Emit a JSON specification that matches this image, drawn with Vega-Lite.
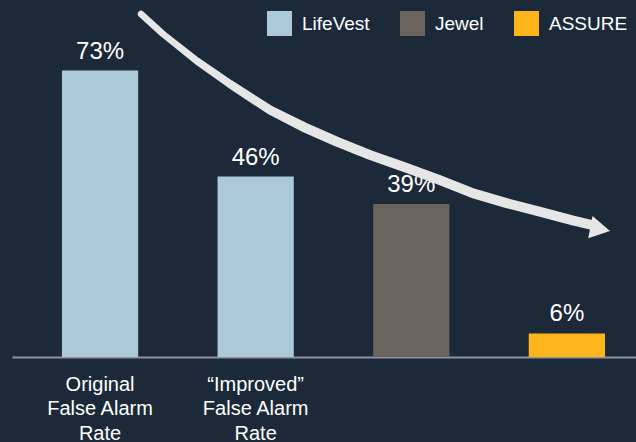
{
  "$schema": "https://vega.github.io/schema/vega-lite/v6.json",
  "width": 624,
  "height": 357,
  "autosize": {"type": "none"},
  "padding": {"left": 12, "top": 0, "right": 0, "bottom": 85},
  "background": "#1b2938",
  "config": {
    "view": {"stroke": null},
    "font": "Liberation Sans",
    "text": {"font": "Liberation Sans"}
  },
  "datasets": {
    "bars": [
      {"category": "Original|False Alarm|Rate", "device": "LifeVest", "rate": 0.73},
      {"category": "“Improved”|False Alarm|Rate", "device": "LifeVest", "rate": 0.46},
      {"category": "Jewel", "device": "Jewel", "rate": 0.39},
      {"category": "ASSURE", "device": "ASSURE", "rate": 0.06}
    ],
    "arrow": [
      {"ax": 1.2637, "ay": 0.8743},
      {"ax": 1.4051, "ay": 0.8233},
      {"ax": 1.6238, "ay": 0.7545},
      {"ax": 1.836, "ay": 0.6959},
      {"ax": 2.0932, "ay": 0.6296},
      {"ax": 2.3055, "ay": 0.587},
      {"ax": 2.5241, "ay": 0.5488},
      {"ax": 2.7363, "ay": 0.5149},
      {"ax": 2.9486, "ay": 0.4851},
      {"ax": 3.1672, "ay": 0.4537},
      {"ax": 3.3987, "ay": 0.4173},
      {"ax": 3.6174, "ay": 0.3918},
      {"ax": 3.8296, "ay": 0.3704},
      {"ax": 4.0418, "ay": 0.348},
      {"ax": 4.164, "ay": 0.3365}
    ],
    "head": [{"ax": 4.2167, "ay": 0.3263}]
  },
  "layer": [
    {
      "data": {"name": "bars"},
      "encoding": {
        "x": {
          "field": "category",
          "type": "nominal",
          "sort": null,
          "scale": {"paddingInner": 0.51, "paddingOuter": 0.26, "align": 0.617},
          "axis": {
            "title": null,
            "labelExpr": "indexof(datum.label,'|')>=0 ? split(datum.label,'|') : ''",
            "labelAngle": 0,
            "labelFontSize": 20,
            "labelFont": "Liberation Sans",
            "labelColor": "#ffffff",
            "labelPadding": 17,
            "labelLineHeight": 24.5,
            "labelBaseline": "top",
            "labelLimit": 0,
            "labelOverlap": false,
            "labelBound": false,
            "ticks": false,
            "grid": false,
            "domainColor": "#8e949b",
            "domainWidth": 2
          }
        },
        "y": {
          "field": "rate",
          "type": "quantitative",
          "scale": {"domain": [0, 0.91]},
          "axis": null
        }
      },
      "layer": [
        {
          "mark": {"type": "bar"},
          "encoding": {
            "color": {
              "field": "device",
              "type": "nominal",
              "scale": {
                "domain": ["LifeVest", "Jewel", "ASSURE"],
                "range": ["#abc9d8", "#6b635e", "#fdb51b"]
              },
              "legend": {
                "orient": "none",
                "legendX": 255,
                "legendY": 11,
                "direction": "horizontal",
                "title": null,
                "symbolType": "square",
                "symbolSize": 625,
                "symbolStrokeWidth": 0,
                "symbolOpacity": 1,
                "labelFontSize": 19,
                "labelFont": "Liberation Sans",
                "labelColor": "#ffffff",
                "labelOffset": 10,
                "columnPadding": 30,
                "labelLimit": 0
              }
            }
          }
        },
        {
          "mark": {
            "type": "text",
            "dy": -12,
            "baseline": "alphabetic",
            "fontSize": 24,
            "color": "#ffffff"
          },
          "encoding": {
            "text": {"field": "rate", "type": "quantitative", "format": ".0%"}
          }
        }
      ]
    },
    {
      "data": {"name": "arrow"},
      "mark": {"type": "trail", "color": "#e6e6e6"},
      "encoding": {
        "x": {
          "field": "ax",
          "type": "quantitative",
          "scale": {"domain": [0.434, 4.447], "nice": false, "zero": false},
          "axis": null
        },
        "y": {
          "field": "ay",
          "type": "quantitative",
          "scale": {"domain": [0, 0.91]},
          "axis": null
        },
        "size": {
          "field": "ax",
          "type": "quantitative",
          "scale": {"domain": [1.4, 2.3], "range": [6.5, 9.8], "clamp": true, "zero": false, "nice": false},
          "legend": null
        }
      }
    },
    {
      "data": {"name": "head"},
      "mark": {
        "type": "point",
        "shape": "M-1,-1.13L1,0L-1,1.13Z",
        "size": 400,
        "angle": 11,
        "filled": true,
        "color": "#e6e6e6",
        "opacity": 1
      },
      "encoding": {
        "x": {
          "field": "ax",
          "type": "quantitative",
          "scale": {"domain": [0.434, 4.447], "nice": false, "zero": false},
          "axis": null
        },
        "y": {
          "field": "ay",
          "type": "quantitative",
          "scale": {"domain": [0, 0.91]},
          "axis": null
        }
      }
    }
  ],
  "resolve": {"scale": {"x": "independent", "size": "independent"}}
}
